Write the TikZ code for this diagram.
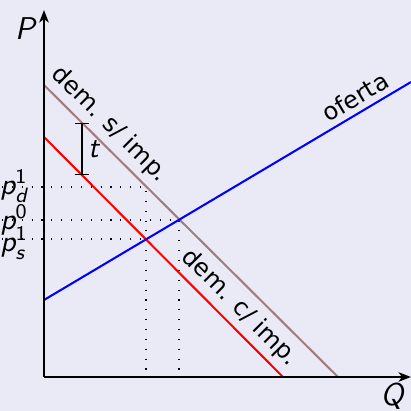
\documentclass[tikz,border=0pt]{standalone}
\usepackage{amsmath}
\usepackage{fontspec}
\setmainfont{DejaVu Sans}
\usetikzlibrary{arrows.meta,positioning,calc}
\definecolor{bgc}{RGB}{234,234,246}
\definecolor{demc}{RGB}{158,126,126}
\newcommand{\sv}[1]{{\sffamily\slshape #1}}
\newcommand{\pv}[2]{\sv{p}$^{\text{\sffamily\upshape #2}}_{\text{\sv{#1}}}$}

\begin{document}
\begin{tikzpicture}[x=0.365pt,y=0.365pt,line join=round,font=\fontsize{8.8}{10}\selectfont]
\tikzset{axis/.style={line width=1.05pt,-{Stealth[length=4.5pt,width=3.4pt,inset=1.2pt]}},
  curve/.style={line width=0.75pt},
  guide/.style={line width=0.4pt,dash pattern=on 0.4pt off 3.2pt},
  plab/.style={font=\fontsize{10.8}{12}\selectfont,anchor=east,inner sep=0.5pt},
  alab/.style={font=\fontsize{11.5}{13}\selectfont},
  clab/.style={sloped,above,text=black,inner sep=2pt}}
\fill[bgc] (0,0) rectangle (411,411);
\useasboundingbox (0,0) rectangle (411,411);
% axes
\coordinate (o) at (44,34);
\coordinate (ytop) at (44,401);
\coordinate (xend) at (411,34);
% demand without tax, demand with tax, supply
\coordinate (d0a) at (44,326); \coordinate (d0b) at (338,34);
\coordinate (d1a) at (44,274); \coordinate (d1b) at (283,34);
\coordinate (sa) at (44,111);  \coordinate (sb) at (411,329);
% equilibria
\coordinate (e0) at (179,191);
\coordinate (e1) at (146,172);
\coordinate (ed) at (146,224);
% dotted guides
\draw[guide] (2,224) -- (ed) -- (146,34);
\draw[guide] (2,191) -- (e0) -- (179,34);
\draw[guide] (2,172) -- (e1);
\node[plab] (pd) at (30,225) {\pv{d}{1}};
\node[plab] (p0) at (30,191) {\sv{p}$^{\text{\sffamily\upshape 0}}$};
\node[plab] (ps) at (30,168) {\pv{s}{1}};
% curves
\draw[curve,demc] (d0a) -- node[clab,pos=0.18] {dem. s/ imp.} (d0b);
\draw[curve,red] (d1a) -- node[clab,pos=0.765] {dem. c/ imp.} (d1b);
\draw[curve,blue] (sa) -- node[clab,pos=0.87] {oferta} (sb);
% tax
\coordinate (ta) at (82,288);
\coordinate (tb) at (82,236);
\draw[line width=0.45pt,{Bar[width=5pt]}-{Bar[width=5pt]}] (ta) -- node[plab,right,anchor=west,inner sep=2pt] {\sv{t}} (tb);
\draw[axis] (o) -- (ytop);
\draw[axis] (o) -- (xend);
\node[alab] (plbl) at (25,382) {\sv{P}};
\node[alab] (qlbl) at (392,15) {\sv{Q}};
\end{tikzpicture}
\end{document}
